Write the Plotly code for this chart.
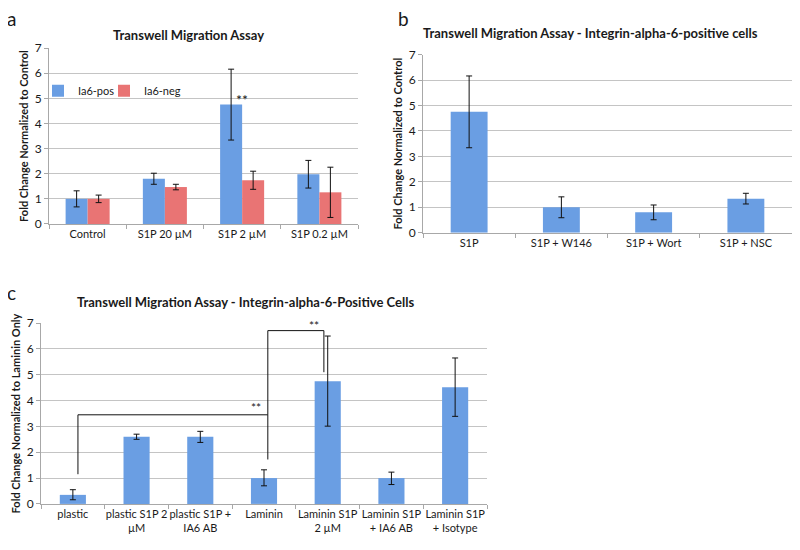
import plotly.graph_objects as go

# ---------------- data ----------------
a_categories = ["Control", "S1P 20 µM", "S1P 2 µM", "S1P 0.2 µM"]
a_pos = [1.0, 1.8, 4.75, 1.98]
a_pos_err = [0.32, 0.22, 1.41, 0.55]
a_neg = [1.0, 1.47, 1.74, 1.26]
a_neg_err = [0.15, 0.11, 0.36, 1.0]

b_categories = ["S1P", "S1P + W146", "S1P + Wort", "S1P + NSC"]
b_values = [4.75, 1.0, 0.80, 1.34]
b_err = [1.41, 0.41, 0.29, 0.21]

c_categories = ["plastic", "plastic S1P 2<br>µM", "plastic S1P +<br>IA6 AB", "Laminin",
                "Laminin S1P<br>2 µM", "Laminin S1P<br>+ IA6 AB", "Laminin S1P<br>+ Isotype"]
c_values = [0.35, 2.6, 2.6, 1.0, 4.75, 1.0, 4.52]
c_err_plus = [0.20, 0.10, 0.21, 0.32, 1.75, 0.23, 1.13]
c_err_minus = [0.19, 0.10, 0.22, 0.30, 1.74, 0.25, 1.13]

y_ticks = [0, 1, 2, 3, 4, 5, 6, 7]

# significance marker in panel a: (category index, y)
a_star = (2, 4.95)
# significance brackets in panel c: (x_left, y_left_end, x_right, y_right_end, y_top, star_x, star_y)
c_brackets = [
    (0.08, 1.15, 3.06, 1.72, 3.45, 2.87, 3.72),
    (3.06, 3.45, 3.94, 5.10, 6.71, 3.78, 6.92),
]

# ---------------- style / layout helpers ----------------
FONT = "Lato"
BLUE = "#6A9EE3"
RED = "#E97474"
GRID = "#C4C4C4"
AXIS = "#A8A8A8"
TXT = "#1a1a1a"

OFF = 8          # default body margin of the page
W, H = 800 - 2 * OFF, 550 - 2 * OFF


def fx(px):
    return (px - OFF) / W


def fy(py):
    return 1 - (py - OFF) / H


fig = go.Figure()

err_style = dict(type="data", symmetric=True, color="#111", thickness=1, width=3)

fig.add_trace(go.Bar(
    x=a_categories, y=a_pos, name="Ia6-pos", marker=dict(color=BLUE, line=dict(width=0)),
    offset=-0.285, width=0.285, error_y=dict(array=a_pos_err, **err_style),
    xaxis="x", yaxis="y", legend="legend"))
fig.add_trace(go.Bar(
    x=a_categories, y=a_neg, name="Ia6-neg", marker=dict(color=RED, line=dict(width=0)),
    offset=0.0, width=0.285, error_y=dict(array=a_neg_err, **err_style),
    xaxis="x", yaxis="y", legend="legend2"))

fig.add_trace(go.Bar(
    x=b_categories, y=b_values, showlegend=False, marker=dict(color=BLUE, line=dict(width=0)),
    width=0.40, error_y=dict(array=b_err, **err_style), xaxis="x2", yaxis="y2"))

fig.add_trace(go.Bar(
    x=c_categories, y=c_values, showlegend=False, marker=dict(color=BLUE, line=dict(width=0)),
    width=0.41,
    error_y=dict(type="data", symmetric=False, array=c_err_plus, arrayminus=c_err_minus,
                 color="#111", thickness=1, width=3),
    xaxis="x3", yaxis="y3"))


def xax(domain, anchor, size=11):
    return dict(domain=domain, anchor=anchor, type="category", showgrid=False,
                showline=True, linecolor=AXIS, linewidth=1, ticks="outside",
                tickson="boundaries", ticklen=4, tickcolor=AXIS, tickangle=0,
                tickfont=dict(family=FONT, size=size, color=TXT), fixedrange=True)


def yax(domain, anchor, title):
    return dict(domain=domain, anchor=anchor, range=[0, 7], tickvals=y_ticks,
                showgrid=True, gridcolor=GRID, gridwidth=1, zeroline=False,
                showline=True, linecolor=AXIS, linewidth=1, ticks="outside",
                ticklen=4, tickcolor=AXIS,
                tickfont=dict(family=FONT, size=12, color=TXT),
                title=dict(text=title, font=dict(family=FONT, size=11, color=TXT), standoff=3))


legend_common = dict(orientation="h", xanchor="left", yanchor="middle",
                     bgcolor="rgba(0,0,0,0)", font=dict(family=FONT, size=11, color=TXT),
                     itemwidth=30, tracegroupgap=0, borderwidth=0)

fig.update_layout(
    width=W, height=H,
    margin=dict(l=0, r=0, t=0, b=0),
    paper_bgcolor="white", plot_bgcolor="white",
    barmode="overlay",
    xaxis=xax([fx(49), fx(358)], "y"),
    yaxis=yax([fy(222), fy(41)], "x", "<b>Fold Change Normalized to Control</b>"),
    xaxis2=xax([fx(423), fx(792)], "y2"),
    yaxis2=yax([fy(231), fy(47.7)], "x2", "<b>Fold Change Normalized to Control</b>"),
    xaxis3=xax([fx(41), fx(487)], "y3"),
    yaxis3=yax([fy(510), fy(324)], "x3", "<b>Fold Change Normalized to Laminin Only</b>"),
    legend=dict(x=fx(38), y=fy(85), **legend_common),
    legend2=dict(x=fx(104), y=fy(85), **legend_common),
    showlegend=True,
)

annotations = [
    dict(text="<b>Transwell Migration Assay</b>", x=fx(188), y=fy(28), xref="paper", yref="paper",
         showarrow=False, font=dict(family=FONT, size=13, color=TXT), xanchor="center", yanchor="middle"),
    dict(text="<b>Transwell Migration Assay - Integrin-alpha-6-positive cells</b>", x=fx(590), y=fy(25),
         xref="paper", yref="paper", showarrow=False, font=dict(family=FONT, size=13, color=TXT),
         xanchor="center", yanchor="middle"),
    dict(text="<b>Transwell Migration Assay - Integrin-alpha-6-Positive Cells</b>", x=fx(246), y=fy(302),
         xref="paper", yref="paper", showarrow=False, font=dict(family=FONT, size=13, color=TXT),
         xanchor="center", yanchor="middle"),
    dict(text="a", x=fx(11), y=fy(11), xref="paper", yref="paper", showarrow=False,
         font=dict(family=FONT, size=19, color=TXT), xanchor="center", yanchor="middle"),
    dict(text="b", x=fx(404), y=fy(11), xref="paper", yref="paper", showarrow=False,
         font=dict(family=FONT, size=19, color=TXT), xanchor="center", yanchor="middle"),
    dict(text="c", x=fx(11), y=fy(292), xref="paper", yref="paper", showarrow=False,
         font=dict(family=FONT, size=19, color=TXT), xanchor="center", yanchor="middle"),
    dict(text="**", x=a_star[0], y=a_star[1], xref="x", yref="y", showarrow=False,
         font=dict(family=FONT, size=14, color=TXT), xanchor="center", yanchor="middle"),
]

shapes = []
for (xl, yl, xr, yr, yt, sx, sy) in c_brackets:
    shapes.append(dict(type="path", xref="x3", yref="y3",
                       path=f"M {xl},{yl} L {xl},{yt} L {xr},{yt} L {xr},{yr}",
                       line=dict(color="#111", width=1)))
    annotations.append(dict(text="**", x=sx, y=sy, xref="x3", yref="y3", showarrow=False,
                            font=dict(family=FONT, size=12, color=TXT), xanchor="center", yanchor="middle"))

fig.update_layout(annotations=annotations, shapes=shapes)

fig.write_html("out.html")
